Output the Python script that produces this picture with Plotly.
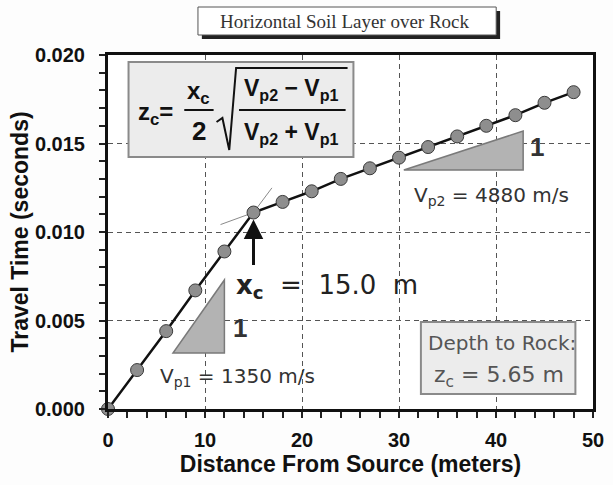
import plotly.graph_objects as go

# ---------------- data ----------------
distance_m = [0, 3, 6, 9, 12, 15, 18, 21, 24, 27, 30, 33, 36, 39, 42, 45, 48]
travel_time_s = [0.0, 0.0022, 0.0044, 0.0067, 0.0089, 0.0111, 0.0117, 0.0123,
                 0.0130, 0.0136, 0.0142, 0.0148, 0.0154, 0.0160, 0.0166,
                 0.0173, 0.0179]
x_ticks = [0, 10, 20, 30, 40, 50]
y_ticks = [0.000, 0.005, 0.010, 0.015, 0.020]
crossover_index = 5  # x_c = 15.0 m

# ---------------- layout geometry (pixels) ----------------
W, H = 613, 485
L, R, T, B = 108, 604, 55, 409


def px(x):
    return (x - L) / (R - L)


def py(y):
    return (B - y) / (B - T)


SANS = "Liberation Sans, Arial, sans-serif"
ROUND = "DejaVu Sans, Verdana, sans-serif"
SERIF = "Liberation Serif, Times New Roman, serif"

fig = go.Figure()

# tangent extensions at the crossover point
xc = distance_m[crossover_index]
tc = travel_time_s[crossover_index]
s1 = (tc - travel_time_s[crossover_index - 1]) / (xc - distance_m[crossover_index - 1])
s2 = (travel_time_s[crossover_index + 1] - tc) / (distance_m[crossover_index + 1] - xc)
fig.add_trace(go.Scatter(x=[xc - 3.4, xc], y=[tc - 3.4 * s2, tc], mode="lines",
                         line=dict(color="#8a8a8a", width=1), hoverinfo="skip",
                         showlegend=False))
fig.add_trace(go.Scatter(x=[xc, xc + 1.9], y=[tc, tc + 1.9 * s1], mode="lines",
                         line=dict(color="#8a8a8a", width=1), hoverinfo="skip",
                         showlegend=False))

fig.add_trace(go.Scatter(
    x=distance_m, y=travel_time_s, mode="lines+markers",
    line=dict(color="#111", width=2.5),
    marker=dict(size=13, color="#8e8e8e", line=dict(color="#3a3a3a", width=1)),
    showlegend=False, cliponaxis=False))

shapes = []
# slope triangles (data coords)
shapes.append(dict(type="path", xref="x", yref="y",
                   path="M 6.7 0.00316 L 12.0 0.00316 L 12.0 0.00729 Z",
                   fillcolor="#b3b3b3", line=dict(color="#7a7a7a", width=1.5)))
shapes.append(dict(type="path", xref="x", yref="y",
                   path="M 30.5 0.0135 L 42.8 0.0135 L 42.8 0.0157 Z",
                   fillcolor="#b3b3b3", line=dict(color="#7a7a7a", width=1.5)))

# formula box
shapes.append(dict(type="rect", xref="paper", yref="paper",
                   x0=px(129), x1=px(359), y0=py(157), y1=py(62),
                   fillcolor="#ececec", line=dict(color="#8a8a8a", width=2)))
# fraction bars
shapes.append(dict(type="line", xref="paper", yref="paper",
                   x0=px(186), x1=px(216), y0=py(110), y1=py(110),
                   line=dict(color="#111", width=2)))
shapes.append(dict(type="line", xref="paper", yref="paper",
                   x0=px(242), x1=px(351), y0=py(110), y1=py(110),
                   line=dict(color="#111", width=2)))
# square-root sign
sq = [(219, 122), (225, 118), (232, 150), (239, 68), (353, 68)]
sq_path = "M " + " L ".join(f"{px(a):.5f} {py(b):.5f}" for a, b in sq)
shapes.append(dict(type="path", xref="paper", yref="paper", path=sq_path,
                   line=dict(color="#111", width=2)))

# depth box
shapes.append(dict(type="rect", xref="paper", yref="paper",
                   x0=px(428), x1=px(586), y0=py(394), y1=py(322),
                   fillcolor="#ececec", line=dict(color="#8a8a8a", width=2)))

# title box with shadow
shapes.append(dict(type="rect", xref="paper", yref="paper",
                   x0=px(204), x1=px(509), y0=py(39), y1=py(11),
                   fillcolor="#222", line=dict(width=0)))
shapes.append(dict(type="rect", xref="paper", yref="paper",
                   x0=px(200), x1=px(505), y0=py(35), y1=py(7),
                   fillcolor="white", line=dict(color="#555", width=1)))

ann = []


def text(x, y, s, size, color="#111", family=SANS, weight="normal"):
    ann.append(dict(x=px(x), y=py(y), xref="paper", yref="paper", text=s,
                    showarrow=False, xanchor="center", yanchor="middle",
                    font=dict(size=size, color=color, family=family, weight=weight)))


text(350, 21, "Horizontal Soil Layer over Rock", 19, "#333", SERIF)

# formula
text(157, 113, "z<sub>c</sub>=", 24, "#111", SANS, "bold")
text(201, 92, "x<sub>c</sub>", 24, "#111", SANS, "bold")
text(201, 131, "2", 26, "#111", SANS, "bold")
text(296, 89, "V<sub>p2</sub> \u2212 V<sub>p1</sub>", 23, "#111", SANS, "bold")
text(296, 133, "V<sub>p2</sub> + V<sub>p1</sub>", 23, "#111", SANS, "bold")

# slope labels
text(243, 328, "1", 26, "#333", SANS, "bold")
text(547, 147, "1", 26, "#333", SANS, "bold")
text(240, 377, "V<sub>p1</sub> = 1350 m/s", 20, "#333", ROUND)
text(500, 196, "V<sub>p2</sub> = 4880 m/s", 20, "#333", ROUND)

# crossover label
text(332, 286, "<b>x<sub>c</sub></b>  =  15.0  m", 26, "#222", ROUND)

# depth box text
text(511, 343, "Depth to Rock:", 20, "#555", ROUND)
text(508, 376, "z<sub>c</sub> = 5.65 m", 22, "#555", ROUND)

# arrow to crossover point
ann.append(dict(x=xc, y=tc, xref="x", yref="y", ax=0, ay=54, text="",
                showarrow=True, arrowhead=2, arrowsize=1.3, arrowwidth=3,
                arrowcolor="#111", standoff=7))

fig.update_layout(
    width=W, height=H,
    margin=dict(l=L, r=W - R, t=T, b=H - B),
    paper_bgcolor="#fdfdfd", plot_bgcolor="white",
    shapes=shapes, annotations=ann,
    xaxis=dict(range=[0, 50], tickvals=x_ticks, ticktext=[str(v) for v in x_ticks],
               showline=True, mirror=True, linecolor="#111", linewidth=3,
               showgrid=True, gridcolor="#555", gridwidth=1.3, griddash="5px,4px",
               zeroline=False, ticks="outside", ticklen=6, tickwidth=1.5,
               tickcolor="#222", ticklabelstandoff=5,
               minor=dict(dtick=2, ticks="outside", ticklen=6, tickwidth=1.5,
                          tickcolor="#222", showgrid=False),
               tickfont=dict(family=SANS, size=20, color="#111", weight="bold"),
               title=dict(text="Distance From Source (meters)", standoff=5,
                          font=dict(family=SANS, size=23, color="#111", weight="bold"))),
    yaxis=dict(range=[0, 0.020], tickvals=y_ticks,
               ticktext=[f"{v:.3f}" for v in y_ticks],
               showline=True, mirror=True, linecolor="#111", linewidth=3,
               showgrid=True, gridcolor="#555", gridwidth=1.3, griddash="5px,4px",
               zeroline=False, ticks="outside", ticklen=6, tickwidth=1.5,
               tickcolor="#222", ticklabelstandoff=10,
               minor=dict(dtick=0.001, ticks="outside", ticklen=6, tickwidth=1.5,
                          tickcolor="#222", showgrid=False),
               tickfont=dict(family=SANS, size=20, color="#111", weight="bold"),
               title=dict(text="Travel Time (seconds)", standoff=0,
                          font=dict(family=SANS, size=23, color="#111", weight="bold"))),
)

fig.write_html("out.html")
